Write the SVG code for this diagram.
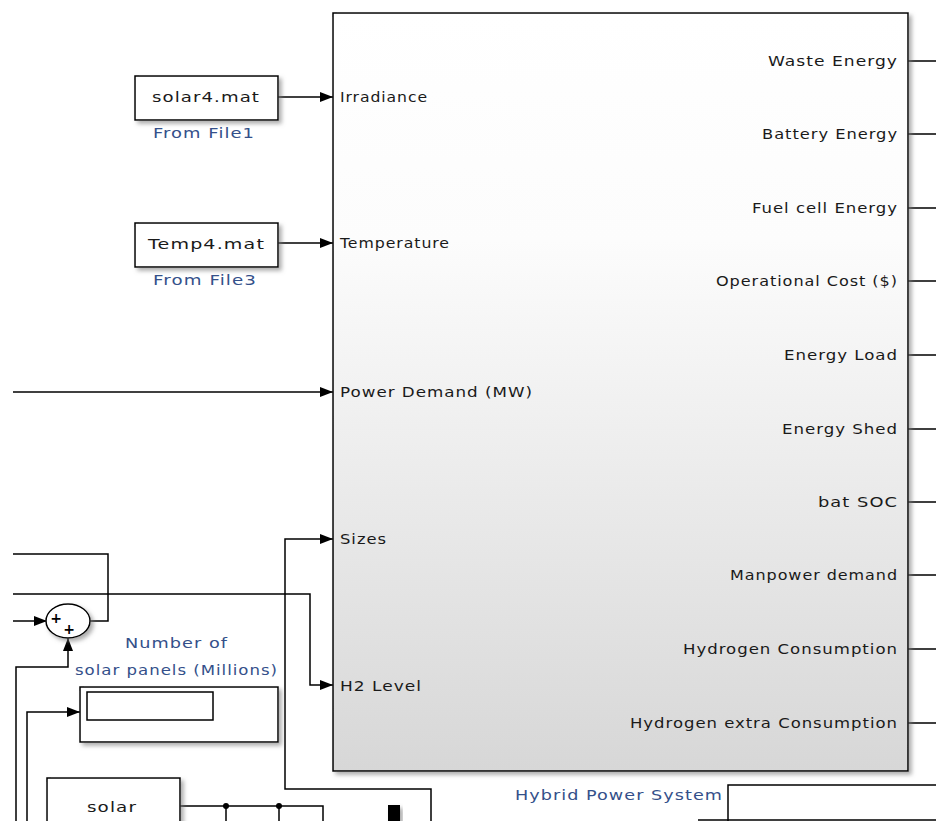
<svg xmlns="http://www.w3.org/2000/svg" width="936" height="821" viewBox="0 0 936 821">
<defs>
<linearGradient id="gBody" x1="0" y1="0" x2="0" y2="1">
<stop offset="0" stop-color="#ffffff"/>
<stop offset="0.3" stop-color="#fcfcfc"/>
<stop offset="1" stop-color="#d7d7d7"/>
</linearGradient>
<filter id="sh" x="-10%" y="-10%" width="130%" height="130%">
<feDropShadow dx="3" dy="3" stdDeviation="2" flood-color="#777" flood-opacity="0.6"/>
</filter>
<marker id="arr" viewBox="0 0 13 10" refX="13" refY="5" markerWidth="13" markerHeight="10" markerUnits="userSpaceOnUse" orient="auto">
<path d="M0,0 L13,5 L0,10 Z" fill="#000"/>
</marker>
</defs>
<style>
.blk{fill:#fff;stroke:#000;stroke-width:1.5}
.ln{fill:none;stroke:#000;stroke-width:1.5}
.t{font-family:"DejaVu Sans",Verdana,sans-serif;font-size:13.5px;letter-spacing:0.8px;fill:#1a1a1a}
.nm{font-family:"DejaVu Sans",Verdana,sans-serif;font-size:13.5px;letter-spacing:0.8px;fill:#34508a}
.pl{font-family:"DejaVu Sans",sans-serif;font-size:14px;font-weight:bold;fill:#000;text-anchor:middle}
</style>
<rect width="936" height="821" fill="#fff"/>

<g id="connectors">
<path class="ln" d="M278,97 H333" marker-end="url(#arr)"/>
<path class="ln" d="M278,243 H333" marker-end="url(#arr)"/>
<path class="ln" d="M13,392 H333" marker-end="url(#arr)"/>
<path class="ln" d="M431,821 V789 H285 V539 H333" marker-end="url(#arr)"/>
<path class="ln" d="M13,594 H310 V685 H333" marker-end="url(#arr)"/>
<path class="ln" d="M90,621 H108 V554 H13"/>
<path class="ln" d="M13,621 H47" marker-end="url(#arr)"/>
<path class="ln" d="M16,821 V667 H68 V638" marker-end="url(#arr)"/>
<path class="ln" d="M27,821 V712 H80" marker-end="url(#arr)"/>
<path class="ln" d="M180,806 H323 V821 M226,806 V821 M279,806 V821"/>
<circle cx="226" cy="806" r="3" fill="#000"/>
<circle cx="279" cy="806" r="3" fill="#000"/>
<path class="ln" d="M908,61 H936 M908,134 H936 M908,208 H936 M908,281 H936 M908,355 H936 M908,429 H936 M908,502 H936 M908,575 H936 M908,649 H936 M908,723 H936"/>
<path class="ln" d="M728,821 V785 H936 M698,820 H936"/>
</g>

<g id="hybrid">
<rect x="333" y="13" width="575" height="758" fill="url(#gBody)" stroke="#000" stroke-width="1.5" filter="url(#sh)"/>
<text class="t" x="340" y="102" textLength="88" lengthAdjust="spacingAndGlyphs">Irradiance</text>
<text class="t" x="340" y="248" textLength="110" lengthAdjust="spacingAndGlyphs">Temperature</text>
<text class="t" x="340" y="397" textLength="193" lengthAdjust="spacingAndGlyphs">Power Demand (MW)</text>
<text class="t" x="340" y="544" textLength="47" lengthAdjust="spacingAndGlyphs">Sizes</text>
<text class="t" x="340" y="691" textLength="82" lengthAdjust="spacingAndGlyphs">H2 Level</text>
<text class="t" x="768" y="66" textLength="130" lengthAdjust="spacingAndGlyphs">Waste Energy</text>
<text class="t" x="762" y="139" textLength="136" lengthAdjust="spacingAndGlyphs">Battery Energy</text>
<text class="t" x="752" y="213" textLength="146" lengthAdjust="spacingAndGlyphs">Fuel cell Energy</text>
<text class="t" x="716" y="286" textLength="182" lengthAdjust="spacingAndGlyphs">Operational Cost ($)</text>
<text class="t" x="784" y="360" textLength="114" lengthAdjust="spacingAndGlyphs">Energy Load</text>
<text class="t" x="782" y="434" textLength="116" lengthAdjust="spacingAndGlyphs">Energy Shed</text>
<text class="t" x="818" y="507" textLength="80" lengthAdjust="spacingAndGlyphs">bat SOC</text>
<text class="t" x="730" y="580" textLength="168" lengthAdjust="spacingAndGlyphs">Manpower demand</text>
<text class="t" x="683" y="654" textLength="215" lengthAdjust="spacingAndGlyphs">Hydrogen Consumption</text>
<text class="t" x="630" y="728" textLength="268" lengthAdjust="spacingAndGlyphs">Hydrogen extra Consumption</text>
<text class="nm" x="515" y="800" textLength="208" lengthAdjust="spacingAndGlyphs">Hybrid Power System</text>
</g>

<g id="fromfile1">
<rect class="blk" x="135" y="76" width="143" height="44" filter="url(#sh)"/>
<text class="t" x="152" y="102" textLength="108" lengthAdjust="spacingAndGlyphs">solar4.mat</text>
<text class="nm" x="153" y="138" textLength="102" lengthAdjust="spacingAndGlyphs">From File1</text>
</g>

<g id="fromfile3">
<rect class="blk" x="135" y="223" width="143" height="44" filter="url(#sh)"/>
<text class="t" x="148" y="249" textLength="117" lengthAdjust="spacingAndGlyphs">Temp4.mat</text>
<text class="nm" x="153" y="285" textLength="104" lengthAdjust="spacingAndGlyphs">From File3</text>
</g>

<g id="sum">
<ellipse cx="68" cy="621" rx="22" ry="17" fill="#fff" stroke="#000" stroke-width="1.5" filter="url(#sh)"/>
<text class="pl" x="56" y="623">+</text>
<text class="pl" x="69" y="634">+</text>
</g>

<g id="display">
<rect class="blk" x="80" y="687" width="198" height="55" filter="url(#sh)"/>
<rect x="87" y="692" width="126" height="28" fill="#fff" stroke="#000" stroke-width="1.5"/>
<text class="nm" x="125" y="648" textLength="103" lengthAdjust="spacingAndGlyphs">Number of</text>
<text class="nm" x="75" y="675" textLength="203" lengthAdjust="spacingAndGlyphs">solar panels (Millions)</text>
</g>

<g id="solar">
<rect class="blk" x="47" y="778" width="133" height="60" filter="url(#sh)"/>
<text class="t" x="87" y="812" textLength="50" lengthAdjust="spacingAndGlyphs">solar</text>
</g>

<g id="bus">
<rect x="388" y="805" width="12" height="20" fill="#000" filter="url(#sh)"/>
</g>
</svg>
